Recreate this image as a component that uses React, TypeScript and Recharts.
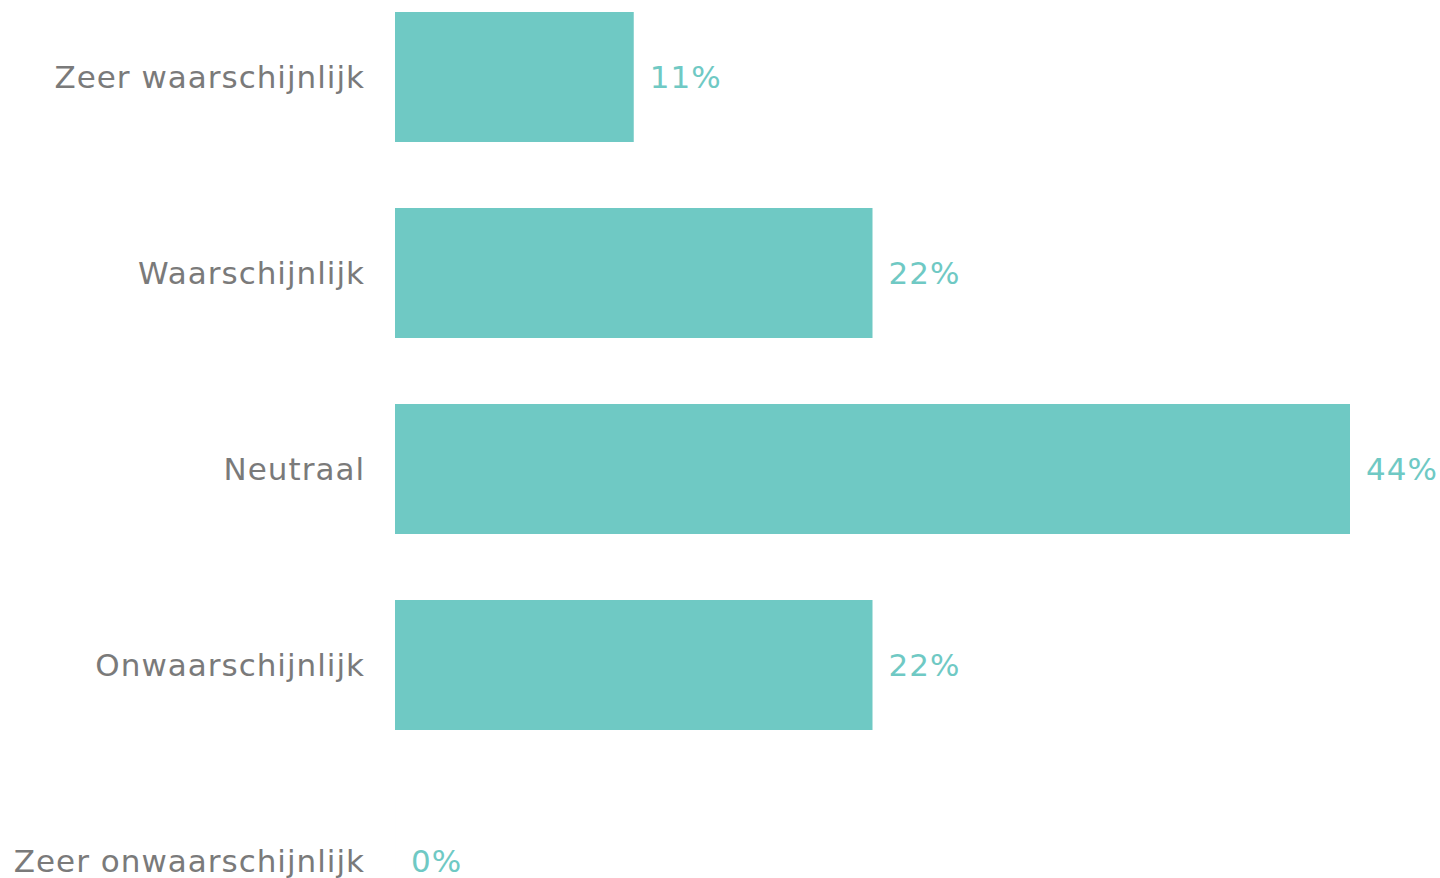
import { BarChart, Bar, XAxis, YAxis, LabelList } from 'recharts';

const categories = [
  'Zeer waarschijnlijk',
  'Waarschijnlijk',
  'Neutraal',
  'Onwaarschijnlijk',
  'Zeer onwaarschijnlijk',
];
const percentages = [11, 22, 44, 22, 0];

const TEAL = '#6fc9c4';
const GREY = '#7a7a7a';
const FONT = '"DejaVu Sans", sans-serif';

const data = categories.map((name, i) => ({ name, value: percentages[i] }));

export default function App() {
  return (
    <div style={{ position: 'absolute', top: -21, left: 0 }}>
      <BarChart
        width={1440}
        height={980}
        layout="vertical"
        data={data}
        margin={{ top: 0, right: 90, bottom: 0, left: 0 }}
      >
        <XAxis type="number" domain={[0, 44]} hide />
        <YAxis
          type="category"
          dataKey="name"
          width={395}
          axisLine={false}
          tickLine={false}
          tickSize={0}
          tickMargin={30}
          tick={{ fontSize: 31, fill: GREY, fontFamily: FONT, letterSpacing: 1 }}
        />
        {/* tiny min size so the 0% row still gets its label */}
        <Bar
          dataKey="value"
          fill={TEAL}
          barSize={130}
          minPointSize={(v: number) => (v === 0 ? 0.01 : 0)}
          isAnimationActive={false}
        >
          <LabelList
            dataKey="value"
            position="right"
            offset={16}
            formatter={(v: number) => `${v}%`}
            style={{ fontSize: 31, fill: TEAL, fontFamily: FONT, letterSpacing: 1 }}
          />
        </Bar>
      </BarChart>
    </div>
  );
}
